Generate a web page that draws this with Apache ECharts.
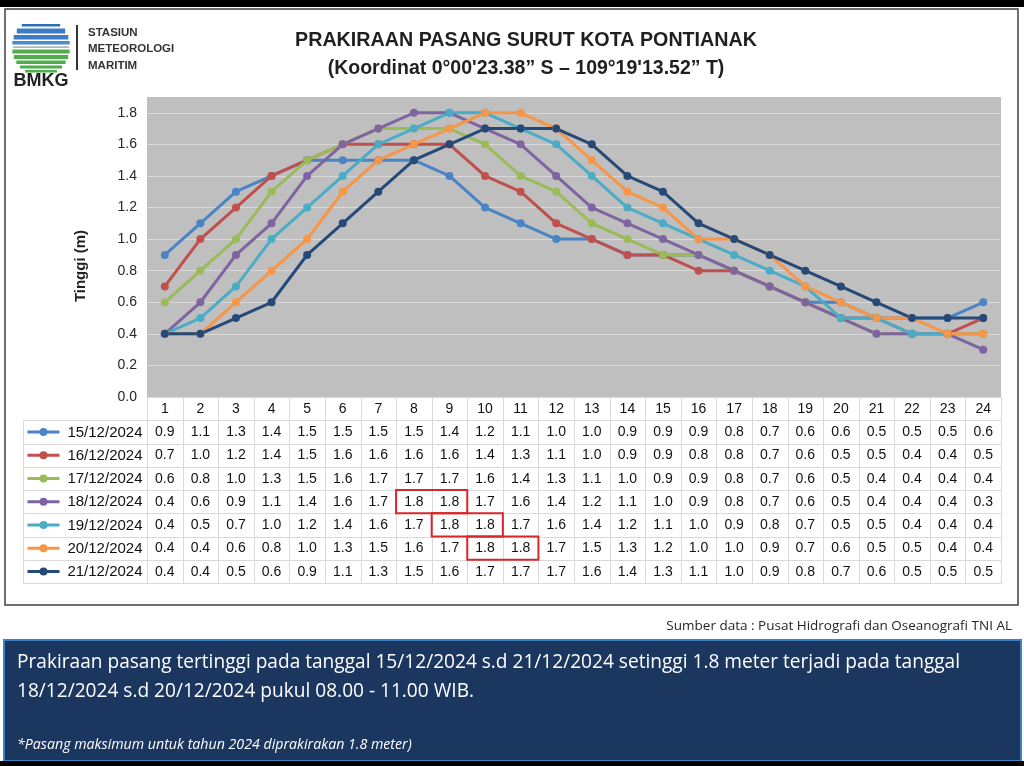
<!DOCTYPE html>
<html>
<head>
<meta charset="utf-8">
<script src="https://cdn.jsdelivr.net/npm/echarts@6/dist/echarts.min.js"></script>
<style>
html,body{margin:0;padding:0;background:#fff;}
#c{width:1024px;height:766px;}
</style>
</head>
<body>
<div id="c"></div>
<script>
// ---------- DATA ----------
const hours = ['1','2','3','4','5','6','7','8','9','10','11','12','13','14','15','16','17','18','19','20','21','22','23','24'];
const dates = ['15/12/2024','16/12/2024','17/12/2024','18/12/2024','19/12/2024','20/12/2024','21/12/2024'];
const tide15 = [0.9,1.1,1.3,1.4,1.5,1.5,1.5,1.5,1.4,1.2,1.1,1.0,1.0,0.9,0.9,0.9,0.8,0.7,0.6,0.6,0.5,0.5,0.5,0.6];
const tide16 = [0.7,1.0,1.2,1.4,1.5,1.6,1.6,1.6,1.6,1.4,1.3,1.1,1.0,0.9,0.9,0.8,0.8,0.7,0.6,0.5,0.5,0.4,0.4,0.5];
const tide17 = [0.6,0.8,1.0,1.3,1.5,1.6,1.7,1.7,1.7,1.6,1.4,1.3,1.1,1.0,0.9,0.9,0.8,0.7,0.6,0.5,0.4,0.4,0.4,0.4];
const tide18 = [0.4,0.6,0.9,1.1,1.4,1.6,1.7,1.8,1.8,1.7,1.6,1.4,1.2,1.1,1.0,0.9,0.8,0.7,0.6,0.5,0.4,0.4,0.4,0.3];
const tide19 = [0.4,0.5,0.7,1.0,1.2,1.4,1.6,1.7,1.8,1.8,1.7,1.6,1.4,1.2,1.1,1.0,0.9,0.8,0.7,0.5,0.5,0.4,0.4,0.4];
const tide20 = [0.4,0.4,0.6,0.8,1.0,1.3,1.5,1.6,1.7,1.8,1.8,1.7,1.5,1.3,1.2,1.0,1.0,0.9,0.7,0.6,0.5,0.5,0.4,0.4];
const tide21 = [0.4,0.4,0.5,0.6,0.9,1.1,1.3,1.5,1.6,1.7,1.7,1.7,1.6,1.4,1.3,1.1,1.0,0.9,0.8,0.7,0.6,0.5,0.5,0.5];

const titleText = 'PRAKIRAAN PASANG SURUT KOTA PONTIANAK';
const subtitleText = '(Koordinat 0°00\'23.38” S – 109°19\'13.52” T)';
const yAxisTitle = 'Tinggi (m)';
const sourceText = 'Sumber data : Pusat Hidrografi dan Oseanografi TNI AL';
const noteLine1 = 'Prakiraan pasang tertinggi pada tanggal 15/12/2024 s.d 21/12/2024 setinggi 1.8 meter terjadi pada tanggal';
const noteLine2 = '18/12/2024 s.d 20/12/2024 pukul 08.00 - 11.00 WIB.';
const noteFoot = '*Pasang maksimum untuk tahun 2024 diprakirakan 1.8 meter)';
const logoLines = ['STASIUN','METEOROLOGI','MARITIM'];
const logoName = 'BMKG';

// ---------- STYLE ----------
const seriesValues = [tide15, tide16, tide17, tide18, tide19, tide20, tide21];
const palette = ['#4a84c4','#c0504d','#9bbb59','#8064a2','#4bacc6','#f79646','#264a78'];
const F = '"Liberation Sans", Arial, sans-serif';
const FO = '"Open Sans", "Noto Sans", sans-serif';
const ROW_H = 23.25, TABLE_TOP = 397, PLOT_LEFT = 147, PLOT_RIGHT = 23;
const px = v => Math.round(Math.round(v * 100) / 100) + 0.5;

// table cells built from data
const tableCells = [];
hours.forEach((h, c) => tableCells.push([c, 0, Number(h)]));
seriesValues.forEach((vals, r) => vals.forEach((v, c) => tableCells.push([c, r + 1, v])));

// highlight runs of the maximum value
const maxVal = Math.max(...seriesValues.flat());
const highlights = [];
seriesValues.forEach((vals, r) => {
  let c = 0;
  while (c < vals.length) {
    if (vals[c] === maxVal) {
      let e = c;
      while (e + 1 < vals.length && vals[e + 1] === maxVal) e++;
      highlights.push([c, r + 1, e]);
      c = e + 1;
    } else c++;
  }
});
const legendCells = dates.map((d, i) => [0, i, i]);

// ---------- LOGO (decoration) ----------
const logoEls = [];
const LCX = 41, LCY = 47, LR = 29;
function chord(y) { const dy = y - LCY; return 2 * Math.sqrt(Math.max(0, LR * LR - dy * dy)); }
[[24,26.5,'#2f6db5'],[28.5,33.5,'#3a7dc6'],[35,39.5,'#3a7dc6'],[41,44.5,'#4a8bd0']].forEach(s => {
  const w = chord((s[0] + s[1]) / 2);
  logoEls.push({type:'rect', shape:{x:LCX - w/2, y:s[0], width:w, height:s[1]-s[0]}, style:{fill:s[2]}});
});
logoEls.push({type:'rect', shape:{x:LCX - 28, y:46.5, width:56, height:1.2}, style:{fill:'#9a9a9a'}});
[[49.5,53.5],[55,59],[60.5,64],[65.5,68.5],[70,72.5]].forEach(s => {
  const w = chord((s[0] + s[1]) / 2);
  logoEls.push({type:'rect', shape:{x:LCX - w/2, y:s[0], width:w, height:s[1]-s[0]}, style:{fill:'#4fae4a'}});
});
logoEls.push({type:'text', x:41, y:81, style:{text:logoName, align:'center', verticalAlign:'middle', font:'bold 18px ' + F, fill:'#222'}});
logoEls.push({type:'line', shape:{x1:77, y1:25, x2:77, y2:70}, style:{stroke:'#333', lineWidth:2}});
logoLines.forEach((t, i) => logoEls.push({type:'text', x:88, y:[33,49,66][i], style:{text:t, align:'left', verticalAlign:'middle', font:'bold 11.5px ' + F, fill:'#333'}}));

const chart = echarts.init(document.getElementById('c'), null, {renderer:'canvas'});
chart.setOption({
  animation: false,
  backgroundColor: '#ffffff',
  grid: [
    {left:PLOT_LEFT, right:PLOT_RIGHT, top:97, height:TABLE_TOP - 97, show:true, backgroundColor:'#bfbfbf', borderWidth:0},
    {left:PLOT_LEFT, right:PLOT_RIGHT, top:TABLE_TOP, height:ROW_H * 8},
    {left:23, width:PLOT_LEFT - 23, top:TABLE_TOP + ROW_H, height:ROW_H * 7}
  ],
  xAxis: [
    {gridIndex:0, type:'category', data:hours, boundaryGap:true, axisLine:{show:false}, axisTick:{show:false}, axisLabel:{show:false}, splitLine:{show:false}},
    {gridIndex:1, type:'category', data:hours, show:false},
    {gridIndex:2, type:'category', data:['Tanggal'], show:false}
  ],
  yAxis: [
    {gridIndex:0, type:'value', min:0, max:1.9, interval:0.2,
      axisLine:{show:false}, axisTick:{show:false},
      axisLabel:{margin:10, fontSize:14, fontFamily:F, color:'#262626',
        formatter: v => (Math.abs(v * 5 - Math.round(v * 5)) < 1e-6 ? v.toFixed(1) : '')},
      splitLine:{show:true, lineStyle:{width:1, color:['#d9d9d9','#d9d9d9','#d9d9d9','#d9d9d9','#d9d9d9','#d9d9d9','#d9d9d9','#d9d9d9','#d9d9d9','#d9d9d9','#bfbfbf']}}},
    {gridIndex:1, type:'category', data:['Jam'].concat(dates), inverse:true, show:false},
    {gridIndex:2, type:'category', data:dates, inverse:true, show:false}
  ],
  graphic: {elements: [
    {type:'rect', shape:{x:0, y:0, width:1024, height:7}, style:{fill:'#000'}},
    {type:'rect', shape:{x:5, y:9, width:1013, height:596}, style:{fill:'none', stroke:'#404040', lineWidth:1.5}},
    ...logoEls,
    {type:'text', x:526, y:41, style:{text:titleText, align:'center', verticalAlign:'middle', font:'bold 19.7px ' + F, fill:'#1f1f1f'}},
    {type:'text', x:526, y:69, style:{text:subtitleText, align:'center', verticalAlign:'middle', font:'bold 19.5px ' + F, fill:'#1f1f1f'}},
    {type:'text', x:81, y:266, rotation:Math.PI / 2, style:{text:yAxisTitle, align:'center', verticalAlign:'middle', font:'bold 15px ' + F, fill:'#1f1f1f'}},
    {type:'text', x:1012, y:626, style:{text:sourceText, align:'right', verticalAlign:'middle', font:'13.5px ' + FO, fill:'#262626'}},
    {type:'rect', shape:{x:4, y:640, width:1017, height:121}, style:{fill:'#1b365f', stroke:'#3b84c4', lineWidth:2}},
    {type:'text', x:17, y:663, style:{text:noteLine1, align:'left', verticalAlign:'middle', font:'19.1px ' + FO, fill:'#ffffff'}},
    {type:'text', x:17, y:692, style:{text:noteLine2, align:'left', verticalAlign:'middle', font:'19.1px ' + FO, fill:'#ffffff'}},
    {type:'text', x:17, y:745, style:{text:noteFoot, align:'left', verticalAlign:'middle', font:'italic 14.2px ' + FO, fill:'#ffffff'}},
    {type:'rect', shape:{x:0, y:761, width:1024, height:5}, style:{fill:'#000'}}
  ]},
  series: [
    ...seriesValues.map((vals, i) => ({
      type:'line', name:dates[i], xAxisIndex:0, yAxisIndex:0, data:vals,
      symbol:'circle', symbolSize:8, showSymbol:true,
      lineStyle:{width:3, color:palette[i]}, itemStyle:{color:palette[i]}
    })),
    {
      type:'custom', name:'tabel', xAxisIndex:1, yAxisIndex:1, data:tableCells, silent:true,
      encode:{x:0, y:1},
      renderItem: (params, api) => {
        const c = api.value(0), r = api.value(1), v = api.value(2);
        const p = api.coord([c, r]); const s = api.size([1, 1]);
        const x0 = px(p[0] - s[0] / 2), x1 = px(p[0] + s[0] / 2);
        const y0 = px(p[1] - s[1] / 2), y1 = px(p[1] + s[1] / 2);
        return {type:'group', children:[
          {type:'rect', shape:{x:x0, y:y0, width:x1 - x0, height:y1 - y0}, style:{fill:'#fff', stroke:'#d9d9d9', lineWidth:1}},
          {type:'text', x:p[0], y:p[1] + 0.5, style:{text: r === 0 ? String(v) : v.toFixed(1), align:'center', verticalAlign:'middle', font:'14px ' + F, fill:'#111'}}
        ]};
      }
    },
    {
      type:'custom', name:'maks', xAxisIndex:1, yAxisIndex:1, data:highlights, silent:true, z:10,
      encode:{x:0, y:1},
      renderItem: (params, api) => {
        const c = api.value(0), r = api.value(1), e = api.value(2);
        const p = api.coord([c, r]); const s = api.size([1, 1]);
        return {type:'rect', shape:{x:p[0] - s[0] / 2, y:p[1] - s[1] / 2, width:s[0] * (e - c + 1), height:s[1]},
          style:{fill:'none', stroke:'#d8262a', lineWidth:2}};
      }
    },
    {
      type:'custom', name:'legenda', xAxisIndex:2, yAxisIndex:2, data:legendCells, silent:true,
      encode:{x:0, y:1},
      renderItem: (params, api) => {
        const r = api.value(1), i = api.value(2);
        const p = api.coord([0, r]); const s = api.size([1, 1]);
        const x0 = px(p[0] - s[0] / 2), x1 = px(p[0] + s[0] / 2);
        const y0 = px(p[1] - s[1] / 2), y1 = px(p[1] + s[1] / 2);
        return {type:'group', children:[
          {type:'rect', shape:{x:x0, y:y0, width:x1 - x0, height:y1 - y0}, style:{fill:'#fff', stroke:'#d9d9d9', lineWidth:1}},
          {type:'line', shape:{x1:x0 + 4, y1:p[1], x2:x0 + 36, y2:p[1]}, style:{stroke:palette[i], lineWidth:3}},
          {type:'circle', shape:{cx:x0 + 20, cy:p[1], r:4}, style:{fill:palette[i]}},
          {type:'text', x:x1 - 5, y:p[1] + 0.5, style:{text:dates[i], align:'right', verticalAlign:'middle', font:'15px ' + F, fill:'#111'}}
        ]};
      }
    }
  ]
});
</script>
</body>
</html>
